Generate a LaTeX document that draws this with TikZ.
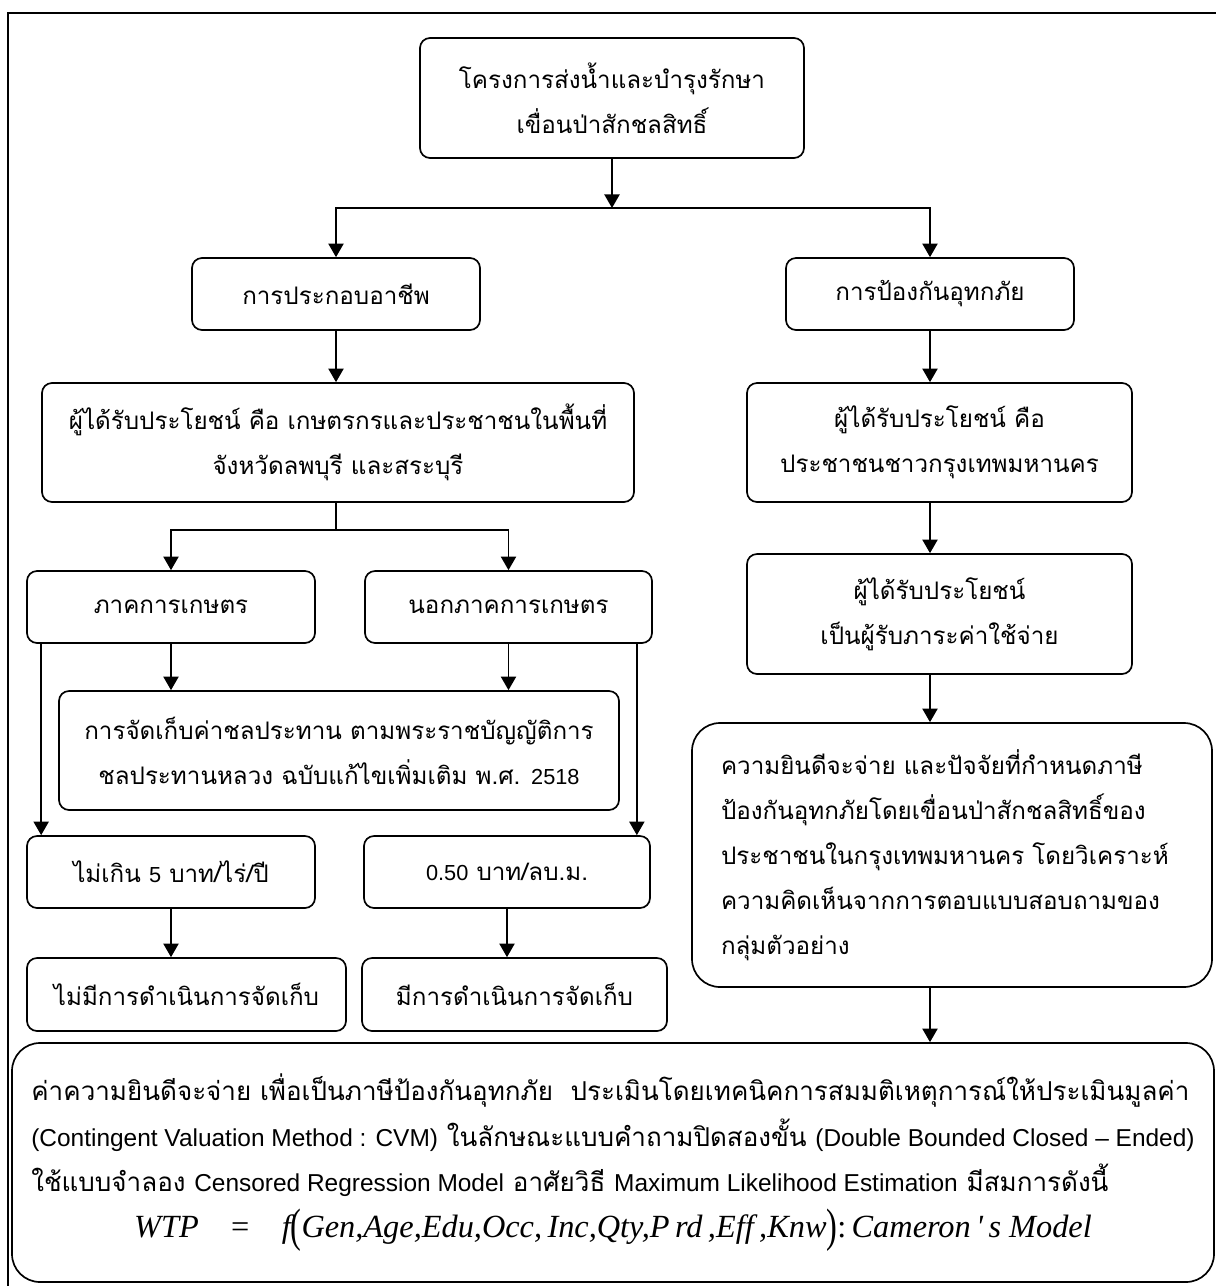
\documentclass[tikz,border=0pt]{standalone}
\usepackage{fontspec}
\usepackage{graphicx}
\setmainfont[Script=Thai]{Loma}
\newfontfamily\latinfont[Scale=0.9]{Liberation Sans}
\newfontfamily\latinbig[Scale=0.94]{Liberation Sans}
\newfontfamily\eqfont{Liberation Serif}
\newcommand{\latn}[1]{{\latinfont #1}}
\newcommand{\latb}[1]{{\latinbig #1}}
\usetikzlibrary{arrows.meta,positioning}
\tikzset{
    >={Triangle[length=3.4mm,width=3.8mm]},
    flow/.style={
        rectangle,
        rounded corners=2.5mm,
        draw,
        align=center,
        inner sep=0pt
    },
    bigflow/.style={flow, rounded corners=7mm, align=left}
}

\begin{document}
\begin{tikzpicture}[font=\fontsize{17.2}{32}\selectfont, line width=1.2pt]

\useasboundingbox (0,0) rectangle (30.4,-32.15);
\draw (0.2,-0.325) rectangle (30.8,-32.6);

\node[flow, minimum width=9.6cm, minimum height=3cm] (top) at (15.3,-2.45)
    {โครงการส่งน้ำและบำรุงรักษา\\เขื่อนป่าสักชลสิทธิ์};
\coordinate (split) at (15.3,-5.2);

\node[flow, minimum width=7.2cm, minimum height=1.8cm] (job) at (8.4,-7.35) {การประกอบอาชีพ};
\node[flow, minimum width=7.2cm, minimum height=1.8cm] (flood) at (23.25,-7.35) {การป้องกันอุทกภัย};

\draw[->] (top) -- (split);
\draw[->] (split) -| (job);
\draw[->] (split) -| (flood);


% left side
\node[flow, minimum width=14.8cm, minimum height=2.975cm] (benL) at (8.45,-11.0625)
    {ผู้ได้รับประโยชน์ คือ เกษตรกรและประชาชนในพื้นที่\\จังหวัดลพบุรี และสระบุรี};
\coordinate (fork) at (8.4,-13.25);

\node[flow, minimum width=7.2cm, minimum height=1.8cm] (agr) at (4.275,-15.175) {ภาคการเกษตร};
\node[flow, minimum width=7.175cm, minimum height=1.8cm] (nagr) at (12.7125,-15.175) {นอกภาคการเกษตร};

\node[flow, minimum width=14cm, minimum height=2.975cm] (law) at (8.475,-18.7625)
    {การจัดเก็บค่าชลประทาน ตามพระราชบัญญัติการ\\ชลประทานหลวง ฉบับแก้ไขเพิ่มเติม พ.ศ. \latn{2518}};

\node[flow, minimum width=7.2cm, minimum height=1.8cm] (rt1) at (4.275,-21.8) {ไม่เกิน \latn{5} บาท/ไร่/ปี};
\node[flow, minimum width=7.15cm, minimum height=1.8cm] (rt2) at (12.675,-21.8) {\latn{0.50} บาท/ลบ.ม.};

\node[flow, minimum width=7.975cm, minimum height=1.825cm] (no) at (4.6625,-24.8625) {ไม่มีการดำเนินการจัดเก็บ};
\node[flow, minimum width=7.625cm, minimum height=1.825cm] (yes) at (12.8625,-24.8625) {มีการดำเนินการจัดเก็บ};

\coordinate (agrL) at ([xshift=3.75mm]agr.south west);
\coordinate (nagrR) at ([xshift=-4mm]nagr.south east);

\draw[->] (job) -- (job |- benL.north);
\draw (job |- benL.south) -- (fork);
\draw[->] (fork) -| (agr);
\draw[->] (fork) -| (nagr);
\draw[->] (agr) -- (agr |- law.north);
\draw[->] (nagr) -- (nagr |- law.north);
\draw[->] (agrL) -- (agrL |- rt1.north);
\draw[->] (nagrR) -- (nagrR |- rt2.north);
\draw[->] (rt1) -- (rt1 |- no.north);
\draw[->] (rt2) -- (rt2 |- yes.north);


% right side
\node[flow, minimum width=9.625cm, minimum height=2.975cm] (benR) at (23.4875,-11.0625)
    {ผู้ได้รับประโยชน์ คือ\\ประชาชนชาวกรุงเทพมหานคร};
\node[flow, minimum width=9.625cm, minimum height=3cm] (payR) at (23.4875,-15.35)
    {ผู้ได้รับประโยชน์\\เป็นผู้รับภาระค่าใช้จ่าย};
\node[bigflow, text width=11.55cm, minimum width=13cm, minimum height=6.6cm] (wtp) at (23.8,-21.375)
    {ความยินดีจะจ่าย และปัจจัยที่กำหนดภาษี\\ป้องกันอุทกภัยโดยเขื่อนป่าสักชลสิทธิ์ของ\\ประชาชนในกรุงเทพมหานคร โดยวิเคราะห์\\ความคิดเห็นจากการตอบแบบสอบถามของ\\กลุ่มตัวอย่าง};

\node[bigflow, font=\fontsize{18.5}{32.5}\selectfont, minimum width=30.05cm, minimum height=5.975cm] (res) at (15.325,-29.0625)
    {ค่าความยินดีจะจ่าย เพื่อเป็นภาษีป้องกันอุทกภัย\ \ ประเมินโดยเทคนิคการสมมติเหตุการณ์ให้ประเมินมูลค่า\\
     \latb{(Contingent Valuation Method : CVM)} ในลักษณะแบบคำถามปิดสองขั้น \latb{(Double Bounded Closed – Ended)}\\
     ใช้แบบจำลอง \latb{Censored Regression Model} อาศัยวิธี \latb{Maximum Likelihood Estimation} มีสมการดังนี้\\
     \hspace*{\fill}{\eqfont\fontsize{23}{32.5}\selectfont\itshape WTP\hspace{1em}{\upshape =}\hspace{1em}f\raisebox{-0.12em}{\scalebox{1}[1.45]{\upshape(}}Gen,Age,Edu,Occ,\,Inc,Qty,P\,rd\,,Eff\,,Knw\raisebox{-0.12em}{\scalebox{1}[1.45]{\upshape)}}{\upshape :}\,Cameron\,'\,s Model}\hspace*{\fill}};

\draw[->] (flood) -- (flood |- benR.north);
\draw[->] (flood |- benR.south) -- (flood |- payR.north);
\draw[->] (flood |- payR.south) -- (flood |- wtp.north);
\draw[->] (flood |- wtp.south) -- (flood |- res.north);

\end{tikzpicture}
\end{document}
